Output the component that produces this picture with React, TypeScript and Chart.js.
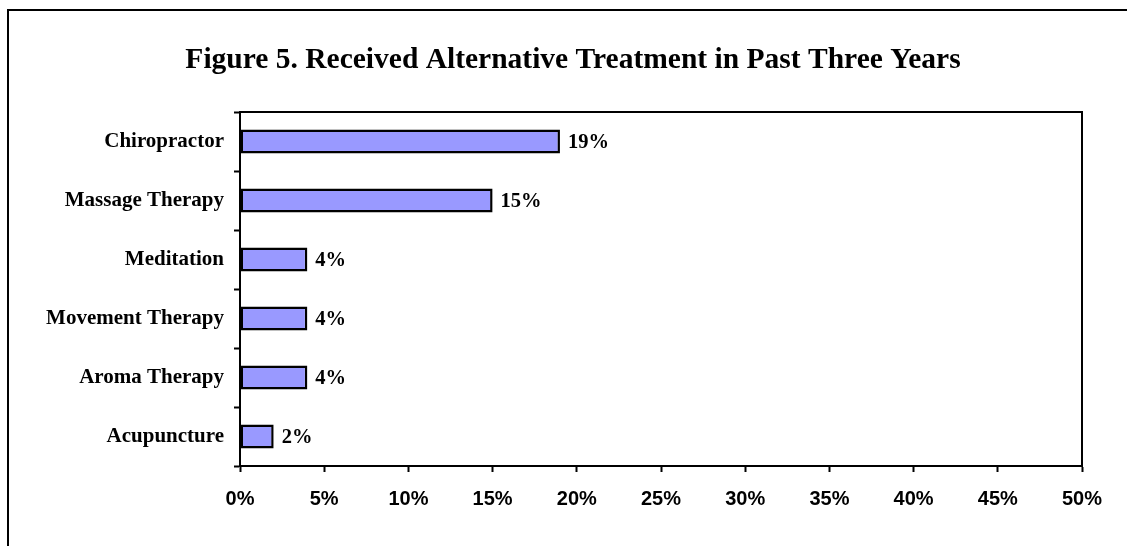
import React, { useEffect, useRef } from "react";
import { Chart, registerables } from "chart.js";

Chart.register(...registerables);

const TITLE = "Figure 5. Received Alternative Treatment in Past Three Years";
const categories = [
  "Chiropractor",
  "Massage Therapy",
  "Meditation",
  "Movement Therapy",
  "Aroma Therapy",
  "Acupuncture",
];
const values = [19, 15, 4, 4, 4, 2];
const X_MIN = 0;
const X_MAX = 50;
const X_STEP = 5;

const SERIF = '"Liberation Serif", "Times New Roman", serif';
const SANS = '"Liberation Sans", Arial, sans-serif';

const titlePlugin = {
  id: "customTitle",
  afterDraw(chart: any) {
    const ctx = chart.ctx;
    ctx.save();
    ctx.font = `bold 29.5px ${SERIF}`;
    ctx.fillStyle = "#000";
    ctx.textAlign = "center";
    ctx.textBaseline = "middle";
    ctx.fillText(TITLE, 573, 60);
    ctx.restore();
  },
};

const framePlugin = {
  id: "frame",
  afterDraw(chart: any) {
    const { ctx, chartArea } = chart;
    ctx.save();
    ctx.strokeStyle = "#000";
    ctx.lineWidth = 2;
    ctx.strokeRect(
      chartArea.left,
      chartArea.top,
      chartArea.right - chartArea.left,
      chartArea.bottom - chartArea.top
    );
    ctx.restore();
  },
};

const valueLabelPlugin = {
  id: "valueLabels",
  afterDatasetsDraw(chart: any) {
    const ctx = chart.ctx;
    const meta = chart.getDatasetMeta(0);
    const data = chart.data.datasets[0].data as number[];
    ctx.save();
    ctx.font = `bold 20.5px ${SERIF}`;
    ctx.fillStyle = "#000";
    ctx.textAlign = "left";
    ctx.textBaseline = "middle";
    meta.data.forEach((bar: any, i: number) => {
      ctx.fillText(`${data[i]}%`, bar.x + 8, bar.y + 1);
    });
    ctx.restore();
  },
};

export default function App() {
  const canvasRef = useRef<HTMLCanvasElement | null>(null);

  useEffect(() => {
    if (!canvasRef.current) return;
    const chart = new Chart(canvasRef.current, {
      type: "bar",
      data: {
        labels: categories,
        datasets: [
          {
            data: values,
            backgroundColor: "#9999FF",
            borderColor: "#000",
            borderWidth: 2.5,
            borderSkipped: false,
            categoryPercentage: 1,
            barPercentage: 0.41,
          },
        ],
      },
      options: {
        indexAxis: "y",
        animation: false,
        responsive: false,
        devicePixelRatio: 1,
        layout: { padding: { top: 112, right: 45, bottom: 0, left: 0 } },
        plugins: {
          legend: { display: false },
          title: { display: false },
          tooltip: { enabled: false },
        },
        scales: {
          x: {
            type: "linear",
            min: X_MIN,
            max: X_MAX,
            afterFit(scale: any) {
              scale.height = 80;
            },
            ticks: {
              stepSize: X_STEP,
              color: "#000",
              font: { family: SANS, size: 20, weight: "bold" },
              padding: 15,
              maxRotation: 0,
              callback: (v: any) => `${v}%`,
            },
            grid: {
              drawOnChartArea: false,
              drawTicks: true,
              tickLength: 6,
              tickWidth: 2,
              tickColor: "#000",
            },
            border: { color: "#000", width: 2 },
          },
          y: {
            type: "category",
            afterFit(scale: any) {
              scale.width = 240;
            },
            ticks: {
              color: "#000",
              font: { family: SERIF, size: 21, weight: "bold" },
              padding: 10,
            },
            grid: {
              offset: true,
              drawOnChartArea: false,
              drawTicks: true,
              tickLength: 6,
              tickWidth: 2,
              tickColor: "#000",
            },
            border: { color: "#000", width: 2 },
          },
        },
      },
      plugins: [titlePlugin, valueLabelPlugin, framePlugin],
    });
    return () => chart.destroy();
  }, []);

  return (
    <div
      style={{
        position: "absolute",
        left: 0,
        top: 0,
        width: 1127,
        height: 546,
        overflow: "hidden",
        background: "#fff",
      }}
    >
      <div
        style={{
          position: "absolute",
          left: 7,
          top: 9,
          width: 1160,
          height: 600,
          border: "2px solid #000",
          boxSizing: "border-box",
        }}
      />
      <canvas
        ref={canvasRef}
        width={1127}
        height={546}
        style={{ position: "absolute", left: 0, top: 0, width: 1127, height: 546 }}
      />
    </div>
  );
}
